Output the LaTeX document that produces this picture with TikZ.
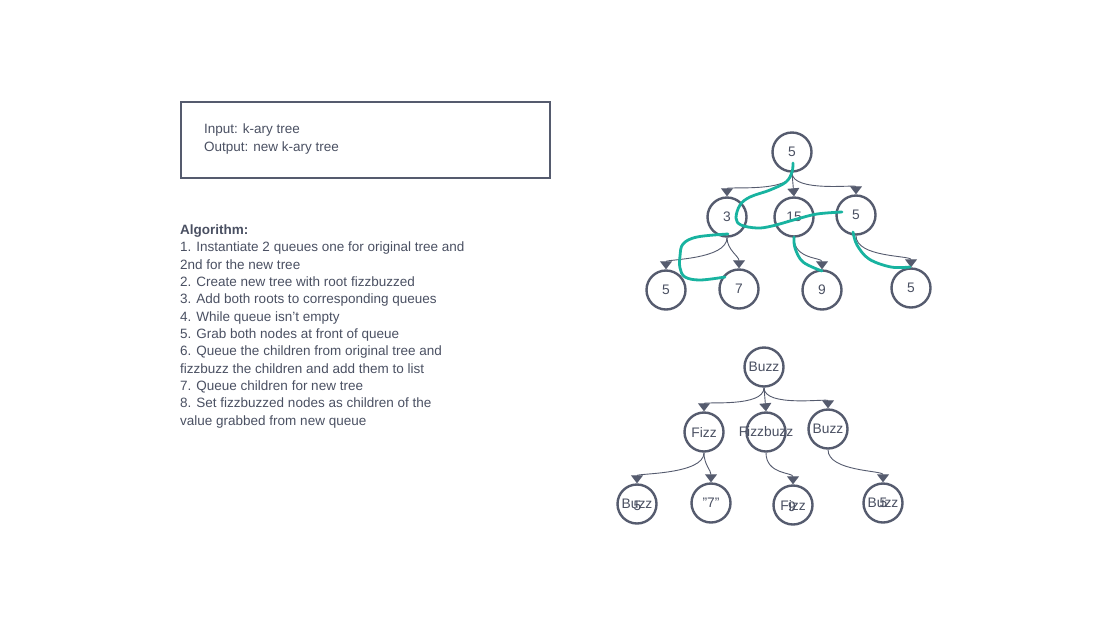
\documentclass[tikz,border=0pt]{standalone}
\usepackage{fontspec}
\setmainfont{Liberation Sans}
\usetikzlibrary{arrows.meta}
\definecolor{ink}{HTML}{555B6E}
\definecolor{txt}{HTML}{4A5062}
\definecolor{teal}{HTML}{18B3A0}
\tikzset{
  tn/.style={circle, draw=ink, line width=2.4pt, minimum size=39pt, inner sep=0pt, fill=white},
  lab/.style={text=txt, font=\fontsize{13.8}{16}\selectfont, inner sep=0pt},
  conn/.style={draw=ink, line width=0.9pt, -{Triangle[width=12pt,length=8pt]}},
  hl/.style={draw=teal, line width=2.8pt, line cap=round, line join=round},
}
\begin{document}
\begin{tikzpicture}[x=1pt,y=-1pt]
\useasboundingbox (0,0) rectangle (1111,625);
% info box
\node[draw=ink, line width=2.4pt, minimum width=369pt, minimum height=76pt, anchor=north west, inner sep=0pt] (box) at (180,101) {};
\node[lab, anchor=north west, align=left, font=\fontsize{13.5}{18}\selectfont] (io) at (204,123.5) {Input: k-ary tree\\Output: new k-ary tree};
% algorithm
\node[lab, anchor=north west, align=left, font=\fontsize{13.5}{17.35}\selectfont] (alg) at (180,224.5) {\textbf{Algorithm:}\\
1. Instantiate 2 queues one for original tree and\\
2nd for the new tree\\
2. Create new tree with root fizzbuzzed\\
3. Add both roots to corresponding queues\\
4. While queue isn't empty\\
5. Grab both nodes at front of queue\\
6. Queue the children from original tree and\\
fizzbuzz the children and add them to list\\
7. Queue children for new tree\\
8. Set fizzbuzzed nodes as children of the\\
value grabbed from new queue};

% top tree
\node[tn] (r) at (792,152) {};
\node[tn] (a) at (727,217) {};
\node[tn] (b) at (794,217) {};
\node[tn] (c) at (856,215) {};
\node[tn] (a1) at (666,290) {};
\node[tn] (a2) at (739,289) {};
\node[tn] (b1) at (822,290) {};
\node[tn] (c1) at (911,288) {};
\node[lab] (rt) at (r) {5};
\node[lab] (at) at (a) {3};
\node[lab] (bt) at (b) {15};
\node[lab] (ct) at (c) {5};
\node[lab] (a1t) at (a1) {5};
\node[lab] (a2t) at (a2) {7};
\node[lab] (b1t) at (b1) {9};
\node[lab] (c1t) at (c1) {5};
\draw[conn] (r.south) .. controls +(0,20) and +(0,-10) .. (a.north);
\draw[conn] (r.south) -- (b.north);
\draw[conn] (r.south) .. controls +(0,20) and +(0,-10) .. (c.north);
\draw[conn] (a.south) .. controls +(0,22) and +(0,-10) .. (a1.north);
\draw[conn] (a.south) .. controls +(0,12) and +(0,-12) .. (a2.north);
\draw[conn] (b.south) .. controls +(0,22) and +(0,-12) .. (b1.north);
\draw[conn] (c.south) .. controls +(0,22) and +(0,-12) .. (c1.north);
% teal traversal strokes
\draw[hl] plot[smooth, tension=0.6] coordinates {(793,163) (792,172) (786,182) (770,190) (750,197) (740,205) (736,218) (741,225) (757,228) (772,226) (797,219) (817,214) (842,212)};
\draw[hl] plot[smooth, tension=0.6] coordinates {(728,234) (697,237) (683,244) (680,256) (680,268) (685,277) (700,280) (725,277)};
\draw[hl] plot[smooth, tension=0.6] coordinates {(794,237) (795,248) (803,262) (822,271)};
\draw[hl] plot[smooth, tension=0.6] coordinates {(853,232) (857,245) (869,259) (891,267) (910,267)};

% bottom tree
\node[tn] (R) at (764,367) {};
\node[tn] (A) at (704,432) {};
\node[tn] (B) at (766,432) {};
\node[tn] (C) at (828,429) {};
\node[tn] (A1) at (637,504) {};
\node[tn] (A2) at (711,503) {};
\node[tn] (B1) at (793,505) {};
\node[tn] (C1) at (883,503) {};
\node[lab] (Rt) at (R) {Buzz};
\node[lab] (At) at (A) {Fizz};
\node[lab] (Bt) at (B) {Fizzbuzz};
\node[lab] (Ct) at (C) {Buzz};
\node[lab] (A1t) at (A1) {Buzz};
\node[lab] (A1n) at ([xshift=0.5pt,yshift=-2pt]A1) {5};
\node[lab] (A2t) at (A2) {\char34 7\char34};
\node[lab] (B1t) at (B1) {Fizz};
\node[lab] (B1n) at ([xshift=-1pt,yshift=-2pt]B1) {9};
\node[lab] (C1t) at (C1) {Buzz};
\node[lab] (C1n) at ([xshift=0.5pt,yshift=0pt]C1) {5};
\draw[conn] (R.south) .. controls +(0,20) and +(0,-10) .. (A.north);
\draw[conn] (R.south) -- (B.north);
\draw[conn] (R.south) .. controls +(0,20) and +(0,-10) .. (C.north);
\draw[conn] (A.south) .. controls +(0,22) and +(0,-10) .. (A1.north);
\draw[conn] (A.south) .. controls +(0,12) and +(0,-12) .. (A2.north);
\draw[conn] (B.south) .. controls +(0,22) and +(0,-12) .. (B1.north);
\draw[conn] (C.south) .. controls +(0,22) and +(0,-12) .. (C1.north);
\end{tikzpicture}
\end{document}
